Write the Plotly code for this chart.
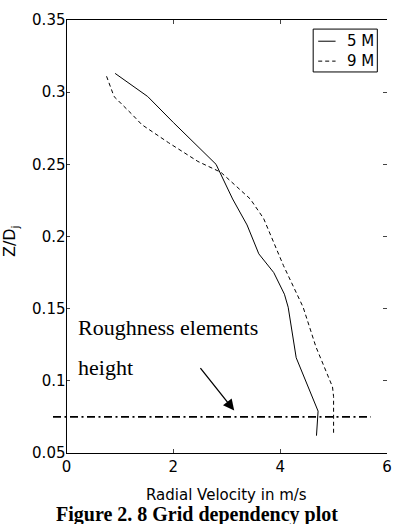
import plotly.graph_objects as go

# Data
vel_5m = [0.91, 1.52, 2.0, 2.46, 2.80, 3.11, 3.38, 3.60, 3.88, 4.08, 4.15, 4.30, 4.40, 4.62, 4.71, 4.68]
z_5m = [0.313, 0.297, 0.279, 0.262, 0.250, 0.226, 0.208, 0.188, 0.175, 0.160, 0.151, 0.116, 0.107, 0.088, 0.079, 0.062]

vel_9m = [0.75, 0.89, 1.23, 1.41, 1.91, 2.46, 2.89, 3.44, 3.69, 4.06, 4.43, 4.67, 4.98, 5.0, 5.0]
z_9m = [0.311, 0.297, 0.2845, 0.2775, 0.265, 0.252, 0.2445, 0.226, 0.2125, 0.180, 0.151, 0.1235, 0.0958, 0.089, 0.0626]

rough_vel = [-0.25, 5.7]
rough_z = [0.075, 0.075]

x_ticks = [0, 2, 4, 6]
y_ticks = [0.05, 0.1, 0.15, 0.2, 0.25, 0.3, 0.35]
y_tick_labels = ["0.05", "0.1", "0.15", "0.2", "0.25", "0.3", "0.35"]

series_names = ["5 M", "9 M"]

SANS = "DejaVu Sans"
SERIF = "Liberation Serif, Times New Roman"

fig = go.Figure()
fig.add_trace(go.Scatter(x=vel_5m, y=z_5m, mode="lines", name=series_names[0],
                         line=dict(color="black", width=1)))
fig.add_trace(go.Scatter(x=vel_9m, y=z_9m, mode="lines", name=series_names[1],
                         line=dict(color="black", width=1, dash="4px,3px")))
# roughness height line, drawn on a wider hidden axis pair so it can extend left of the frame
fig.add_trace(go.Scatter(x=rough_vel, y=rough_z, mode="lines", showlegend=False,
                         xaxis="x2", yaxis="y2",
                         line=dict(color="black", width=1.6, dash="8px,3.5px,2px,3.5px")))

axis_font = dict(family=SANS, size=15, color="black")

# paper coordinates: x 0..1 -> 53..392 px ; y 0..1 -> 452.7..20.3 px
legend_shapes = [
    dict(type="rect", xref="paper", yref="paper", x0=0.779, x1=0.971, y0=0.880, y1=0.979,
         line=dict(color="black", width=1), fillcolor="white", layer="above"),
    dict(type="line", xref="paper", yref="paper", x0=0.794, x1=0.846, y0=0.951, y1=0.951,
         line=dict(color="black", width=1), layer="above"),
    dict(type="line", xref="paper", yref="paper", x0=0.794, x1=0.846, y0=0.905, y1=0.905,
         line=dict(color="black", width=1, dash="4px,3px"), layer="above"),
]

fig.update_layout(
    width=400, height=524,
    margin=dict(l=53, r=8, t=20, b=71),
    paper_bgcolor="white", plot_bgcolor="rgba(0,0,0,0)",
    showlegend=False,
    xaxis=dict(domain=[0.0404, 1], range=[0, 6], tickvals=x_ticks, ticks="inside", ticklen=4,
               showline=True, linecolor="black", linewidth=1, mirror="ticks",
               showgrid=False, zeroline=False, tickfont=axis_font, anchor="y"),
    yaxis=dict(domain=[0, 1], range=[0.05, 0.35], tickvals=y_ticks, ticktext=y_tick_labels,
               ticks="inside", ticklen=4, anchor="x",
               showline=False, mirror="ticks", linecolor="black",
               showgrid=False, zeroline=False, tickfont=axis_font),
    xaxis2=dict(domain=[0, 1], range=[-0.25, 6], visible=False, anchor="y2",
                showgrid=False, zeroline=False),
    yaxis2=dict(domain=[0, 1], range=[0.05, 0.35], visible=False, anchor="x2",
                showgrid=False, zeroline=False),
    shapes=[
        dict(type="line", xref="x domain", yref="y domain", x0=0, x1=0, y0=0, y1=1,
             line=dict(color="black", width=1)),
    ] + legend_shapes,
    annotations=[
        dict(text=series_names[0], xref="paper", yref="paper", x=0.966, y=0.951,
             xanchor="right", yanchor="middle", showarrow=False,
             font=dict(family=SANS, size=15, color="black")),
        dict(text=series_names[1], xref="paper", yref="paper", x=0.966, y=0.905,
             xanchor="right", yanchor="middle", showarrow=False,
             font=dict(family=SANS, size=15, color="black")),
        dict(text="Z/D<sub>j</sub>", xref="paper", yref="paper", x=-0.125, y=0.49,
             textangle=-90, showarrow=False, font=dict(family=SANS, size=16, color="black"),
             xanchor="center", yanchor="middle"),
        dict(text="Radial Velocity in m/s", xref="paper", yref="paper", x=0.519, y=-0.097,
             xanchor="center", yanchor="middle", showarrow=False, font=axis_font),
        dict(text="Roughness elements", x=0.17, y=0.137, xanchor="left", yanchor="middle",
             showarrow=False, font=dict(family=SERIF, size=22, color="black")),
        dict(text="height", x=0.17, y=0.1095, xanchor="left", yanchor="middle",
             showarrow=False, font=dict(family=SERIF, size=22, color="black")),
        dict(text="", x=3.14, y=0.0794, ax=-35, ay=-44, showarrow=True,
             arrowhead=2, arrowsize=1.7, arrowwidth=1.3, arrowcolor="black"),
        dict(text="<b>Figure 2. 8 Grid dependency plot</b>", xref="paper", yref="paper",
             x=0.431, y=-0.143, xanchor="center", yanchor="middle", showarrow=False,
             font=dict(family=SERIF, size=20, color="black")),
    ],
)

fig.write_html("out.html")
